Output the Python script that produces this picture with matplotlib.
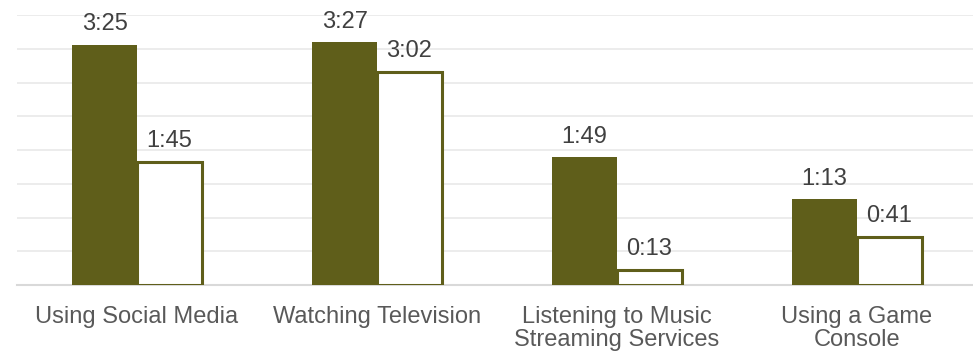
import matplotlib
matplotlib.use('Agg')
import matplotlib.pyplot as plt
import numpy as np

# Kategorien und Werte (Minuten)
categories = ['Using Social Media', 'Watching Television',
              'Listening to Music\nStreaming Services', 'Using a Game\nConsole']
filled_minutes = [205, 207, 109, 73]
hollow_minutes = [105, 182, 13, 41]

OLIVE = '#5F5E1A'
GRID_STEP = 28.8  # 0,02 Tage wie in Excel
Y_MAX = 230.4


def fmt(minutes: int) -> str:
    return f'{minutes // 60}:{minutes % 60:02d}'


def main() -> None:
    plt.rcParams['font.family'] = ['Liberation Sans', 'DejaVu Sans']
    fig = plt.figure(figsize=(9.73, 3.55), dpi=100)
    ax = fig.add_axes([17 / 973, 70 / 355, 960 / 973, 270 / 355])

    x = np.arange(len(categories))
    w = 0.27
    b1 = ax.bar(x - w / 2, filled_minutes, w, color=OLIVE, linewidth=0, zorder=3)
    b2 = ax.bar(x + w / 2, hollow_minutes, w, facecolor='white', edgecolor=OLIVE,
                linewidth=2.2, zorder=3)

    for bars, vals in ((b1, filled_minutes), (b2, hollow_minutes)):
        for rect, v in zip(bars, vals):
            ax.annotate(fmt(v), (rect.get_x() + rect.get_width() / 2, rect.get_height()),
                        xytext=(0, 7), textcoords='offset points', ha='center',
                        va='bottom', fontsize=17, color='#404040')

    ax.set_xlim(-0.5, len(categories) - 0.5)
    ax.set_ylim(0, Y_MAX)
    ax.set_yticks(np.arange(1, 9) * GRID_STEP)
    ax.yaxis.grid(True, color='#EBEBEB', linewidth=1.3, zorder=0)
    ax.set_axisbelow(True)
    ax.tick_params(axis='y', left=False, labelleft=False)
    ax.set_xticks(x)
    ax.set_xticklabels(categories, fontsize=17, color='#595959', linespacing=1.05)
    ax.tick_params(axis='x', length=0, pad=15)
    for side in ('top', 'right', 'left'):
        ax.spines[side].set_visible(False)
    ax.spines['bottom'].set_color('#D9D9D9')
    ax.spines['bottom'].set_linewidth(1.5)
    ax.spines['bottom'].set_zorder(2)

    fig.savefig('out.png', dpi=100)


if __name__ == '__main__':
    main()
